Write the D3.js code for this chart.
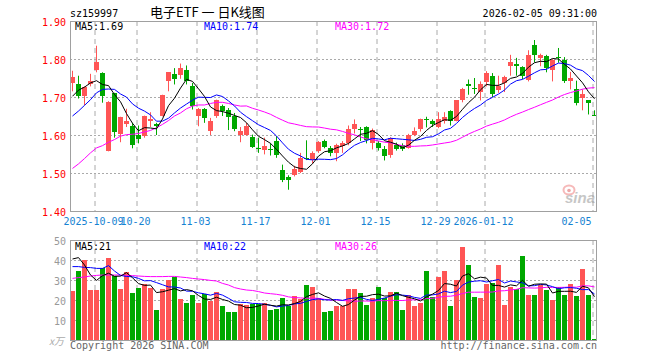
<!DOCTYPE html>
<html><head><meta charset="utf-8">
<script src="https://cdn.jsdelivr.net/npm/d3@7"></script>
<style>html,body{margin:0;padding:0;background:#fff;} svg{display:block}</style>
</head><body>
<svg id="c" width="660" height="360"></svg>
<script>
const dates = [
"2025-09-25","2025-09-26","2025-09-29","2025-09-30",
"2025-10-09","2025-10-10","2025-10-13","2025-10-14","2025-10-15","2025-10-16","2025-10-17",
"2025-10-20","2025-10-21","2025-10-22","2025-10-23","2025-10-24",
"2025-10-27","2025-10-28","2025-10-29","2025-10-30","2025-10-31",
"2025-11-03","2025-11-04","2025-11-05","2025-11-06","2025-11-07",
"2025-11-10","2025-11-11","2025-11-12","2025-11-13","2025-11-14",
"2025-11-17","2025-11-18","2025-11-19","2025-11-20","2025-11-21",
"2025-11-24","2025-11-25","2025-11-26","2025-11-27","2025-11-28",
"2025-12-01","2025-12-02","2025-12-03","2025-12-04","2025-12-05",
"2025-12-08","2025-12-09","2025-12-10","2025-12-11","2025-12-12",
"2025-12-15","2025-12-16","2025-12-17","2025-12-18","2025-12-19",
"2025-12-22","2025-12-23","2025-12-24","2025-12-25","2025-12-26",
"2025-12-29","2025-12-30","2025-12-31",
"2026-01-05","2026-01-06","2026-01-07","2026-01-08","2026-01-09",
"2026-01-12","2026-01-13","2026-01-14","2026-01-15","2026-01-16",
"2026-01-19","2026-01-20","2026-01-21","2026-01-22","2026-01-23",
"2026-01-26","2026-01-27","2026-01-28","2026-01-29","2026-01-30",
"2026-02-02","2026-02-03","2026-02-04","2026-02-05"];

const open = [1.737,1.735,1.702,1.733,1.772,1.763,1.559,1.711,1.602,1.630,
1.625,1.599,1.597,1.636,1.628,1.651,1.741,1.761,1.757,1.772,
1.730,1.649,1.669,1.610,1.649,1.676,1.667,1.651,1.600,1.601,
1.594,1.565,1.560,1.564,1.584,1.507,1.489,1.494,1.503,1.540,
1.534,1.558,1.584,1.565,1.553,1.571,1.578,1.615,1.615,1.621,
1.578,1.580,1.562,1.547,1.574,1.573,1.566,1.599,1.616,1.643,
1.638,1.621,1.636,1.663,1.638,1.693,1.733,1.724,1.7125,1.739,
1.756,1.718,1.737,1.781,1.788,1.779,1.744,1.838,1.803,1.809,
1.770,1.805,1.798,1.741,1.721,1.698,1.691,1.652];
const high = [1.769,1.756,1.728,1.761,1.835,1.765,1.689,1.711,1.648,1.669,
1.632,1.625,1.651,1.660,1.632,1.706,1.765,1.776,1.788,1.783,
1.737,1.671,1.671,1.645,1.693,1.680,1.671,1.658,1.621,1.632,
1.601,1.593,1.593,1.578,1.597,1.522,1.494,1.519,1.553,1.586,
1.557,1.584,1.588,1.571,1.577,1.584,1.625,1.641,1.621,1.623,
1.617,1.584,1.571,1.594,1.580,1.578,1.603,1.620,1.643,1.648,
1.641,1.660,1.660,1.665,1.691,1.724,1.746,1.750,1.741,1.768,
1.763,1.756,1.756,1.811,1.803,1.781,1.823,1.850,1.814,1.811,
1.800,1.829,1.805,1.766,1.743,1.720,1.691,1.665];
const low = [1.715,1.696,1.678,1.728,1.765,1.685,1.557,1.593,1.581,1.621,
1.565,1.578,1.593,1.621,1.600,1.649,1.715,1.733,1.748,1.733,
1.667,1.623,1.632,1.600,1.645,1.650,1.613,1.610,1.581,1.598,
1.566,1.553,1.549,1.546,1.540,1.476,1.456,1.491,1.500,1.534,
1.525,1.553,1.565,1.544,1.531,1.553,1.573,1.604,1.584,1.578,
1.562,1.559,1.533,1.540,1.559,1.558,1.564,1.597,1.609,1.620,
1.621,1.618,1.630,1.625,1.636,1.686,1.706,1.708,1.691,1.728,
1.700,1.711,1.713,1.756,1.756,1.747,1.741,1.791,1.781,1.765,
1.741,1.790,1.737,1.720,1.678,1.665,1.654,1.650];
const close = [1.753,1.702,1.726,1.743,1.791,1.702,1.688,1.608,1.648,1.636,
1.574,1.590,1.649,1.643,1.625,1.704,1.765,1.747,1.776,1.741,
1.676,1.669,1.645,1.638,1.693,1.663,1.648,1.615,1.611,1.625,
1.569,1.563,1.571,1.562,1.547,1.481,1.481,1.510,1.540,1.537,
1.553,1.582,1.568,1.553,1.575,1.578,1.615,1.628,1.613,1.588,
1.613,1.565,1.546,1.593,1.562,1.564,1.601,1.611,1.643,1.641,
1.628,1.641,1.648,1.636,1.691,1.722,1.728,1.720,1.733,1.763,
1.709,1.728,1.753,1.792,1.781,1.756,1.811,1.811,1.811,1.776,
1.798,1.803,1.741,1.750,1.684,1.709,1.684,1.650];
const volume = [24.5,34.5,40,25,25,36.2,40.8,32.2,25.5,33.8,
23.3,26.2,27.8,26.2,15,25.5,30,31.7,20.5,18.3,
22.5,18.3,22.8,19.5,23.8,17,14.2,14.2,17.8,17.5,
17.8,17.8,18.7,15,15.5,21.2,17.2,22.2,20.3,27.5,
26.7,21.2,14.2,14.5,17.2,17.2,25.5,25.5,23.7,17.5,
21.2,26.7,20.8,24.2,24.2,15,22.5,17.2,18.7,34.5,
21.7,31.7,34.5,17,30,46.7,37.5,21.7,21.2,27.8,
28.3,37.5,17.5,26.7,25.5,42.2,22.5,22.5,27.5,25,
20,26.7,22.5,27.8,22,35.5,22.5,0.5];

// moving-average values before a full window exists inside the shown range
const ma5Head = [1.702,1.718,1.726,1.737];
const ma10Head = [1.650,1.663,1.678,1.693,1.711,1.720,1.721,1.720,1.708];
const ma30Head = [1.512,1.524,1.538,1.553,1.566,1.572,1.581,1.588,1.597,1.601,1.602,1.604,1.608,1.612,1.619,1.628,1.638,1.650,1.658,1.669,1.676,1.679,1.679,1.683,1.686,1.686,1.683,1.679,1.676];
const vma5Head = [40.5,41.2,37.5,32.5];
const vma10Head = [36.7,36.7,36.3,36.2,35.8,35.8,37.2,34.5,32.3];
const vma30Head = [30.8,31.2,31.5,32,32.3,32.5,32.5,32.5,32.5,32.3,32.2,32,31.8,31.7,31.7,31.7,31.8,31.8,31.5,31.2,30.8,30.5,30.2,29.8,29.5,28.3,27.5,26.2,25.5];

const tickDates = ["2025-10-09","2025-10-20","2025-11-03","2025-11-17","2025-12-01","2025-12-15","2025-12-29","2026-01-12","2026-02-05"];
const tickLabels = ["2025-10-09","10-20","11-03","11-17","12-01","12-15","12-29","2026-01-12","02-05"];
const priceTicks = [1.40,1.50,1.60,1.70,1.80,1.90];
const volTicks = [10,20,30,40,50];
const priceLegend = ["MA5:1.69","MA10:1.74","MA30:1.72"];
const volLegend = ["MA5:21","MA10:22","MA30:26"];
const codeText = "sz159997";
const titleText = "电子ETF 一 日K线图";
const timeText = "2026-02-05 09:31:00";

const MONO = "'DejaVu Sans Mono', 'Liberation Mono', monospace";
const RED = "#ff5555", GREEN = "#00a800", GRID = "#aaaaaa", FRAME = "#a0a0a0";
const maColors = ["#000000", "#0000ff", "#ff00ff"];

function movingAvg(values, n, head) {
  return values.map((v, i) => i < n - 1 ? head[i] : d3.mean(values.slice(i - n + 1, i + 1)));
}

const svg = d3.select("#c");
const L = 70, R = 597;
const x = d3.scaleBand().domain(dates).range([69.5, 597.5]).padding(0);
const cx = d => x(d) + 3;
const gx = d => x(d) + 2;
const yP = d3.scaleLinear().domain([1.40, 1.90]).range([211, 21]);
const yV = d3.scaleLinear().domain([0, 50]).range([340, 240]);

const rows = dates.map((d, i) => ({d, o: open[i], h: high[i], l: low[i], c: close[i], v: volume[i], up: close[i] >= open[i]}));

// horizontal dotted grid
svg.append("g").selectAll("line").data(priceTicks.filter(t => t > 1.41 && t < 1.89)).join("line")
  .attr("x1", L).attr("x2", R).attr("y1", d => Math.round(yP(d)) + 0.5).attr("y2", d => Math.round(yP(d)) + 0.5)
  .attr("stroke", GRID).attr("stroke-dasharray", "2,2");
svg.append("g").selectAll("line").data(volTicks.filter(t => t < 50)).join("line")
  .attr("x1", L).attr("x2", R).attr("y1", d => Math.round(yV(d)) + 0.5).attr("y2", d => Math.round(yV(d)) + 0.5)
  .attr("stroke", GRID).attr("stroke-dasharray", "2,2");

// vertical dashed grid
const vg = svg.append("g");
vg.selectAll("line.p").data(tickDates).join("line").attr("class", "p")
  .attr("x1", d => gx(d) - 0.5).attr("x2", d => gx(d) - 0.5).attr("y1", 21).attr("y2", 211)
  .attr("stroke", GRID).attr("stroke-dasharray", "5,4");
vg.selectAll("line.v").data(tickDates).join("line").attr("class", "v")
  .attr("x1", d => gx(d) - 0.5).attr("x2", d => gx(d) - 0.5).attr("y1", 240).attr("y2", 340)
  .attr("stroke", GRID).attr("stroke-dasharray", "5,4");

// sina watermark
const wm = svg.append("g").attr("opacity", 0.55);
wm.append("ellipse").attr("cx", 569).attr("cy", 190).attr("rx", 5.5).attr("ry", 4.5).attr("fill", "none").attr("stroke", "#f08080").attr("stroke-width", 2);
wm.append("circle").attr("cx", 569).attr("cy", 190.5).attr("r", 1.8).attr("fill", "#e06060");
wm.append("text").attr("x", 595).attr("y", 203).attr("text-anchor", "end")
  .attr("font-family", "'Liberation Sans', Arial, sans-serif").attr("font-size", 15).attr("font-weight", "bold").attr("font-style", "italic")
  .attr("fill", "#999").text("sina");

// candles
const cg = svg.append("g");
cg.selectAll("line").data(rows).join("line")
  .attr("x1", r => cx(r.d)).attr("x2", r => cx(r.d)).attr("y1", r => yP(r.h)).attr("y2", r => yP(r.l))
  .attr("stroke", r => r.up ? RED : GREEN).attr("stroke-width", 1);
cg.selectAll("rect").data(rows).join("rect")
  .attr("x", r => x(r.d) + 0.5).attr("width", 5)
  .attr("y", r => yP(Math.max(r.o, r.c)))
  .attr("height", r => Math.max(1, Math.abs(yP(r.o) - yP(r.c))))
  .attr("fill", r => r.up ? RED : GREEN).attr("shape-rendering", "crispEdges");

// volume bars
svg.append("g").selectAll("rect").data(rows).join("rect")
  .attr("x", r => x(r.d) + 0.5).attr("width", 5)
  .attr("y", r => yV(r.v)).attr("height", r => Math.max(1, yV(0) - yV(r.v)))
  .attr("fill", r => r.up ? RED : GREEN).attr("shape-rendering", "crispEdges");

// MA lines
const pMA = [movingAvg(close, 5, ma5Head), movingAvg(close, 10, ma10Head), movingAvg(close, 30, ma30Head)];
const vMA = [movingAvg(volume, 5, vma5Head), movingAvg(volume, 10, vma10Head), movingAvg(volume, 30, vma30Head)];
const lineP = d3.line().x((v, i) => cx(dates[i])).y(v => yP(v));
const lineV = d3.line().x((v, i) => cx(dates[i])).y(v => yV(v));
[2, 1, 0].forEach(k => {
  svg.append("path").attr("d", lineP(pMA[k])).attr("fill", "none").attr("stroke", maColors[k]).attr("stroke-width", 1);
  svg.append("path").attr("d", lineV(vMA[k])).attr("fill", "none").attr("stroke", maColors[k]).attr("stroke-width", 1);
});

// frames
svg.append("rect").attr("x", 70.5).attr("y", 21.5).attr("width", 526).attr("height", 190).attr("fill", "none").attr("stroke", FRAME);
svg.append("rect").attr("x", 70.5).attr("y", 240.5).attr("width", 526).attr("height", 100).attr("fill", "none").attr("stroke", FRAME);

// axes
const ay = svg.append("g").attr("transform", "translate(70,1)")
  .call(d3.axisLeft(yP).tickValues(priceTicks).tickFormat(d3.format(".2f")).tickSize(0).tickPadding(4));
ay.select(".domain").remove();
ay.selectAll("text").attr("fill", "#ff0000").attr("font-family", MONO).attr("font-size", 10);

const av = svg.append("g").attr("transform", "translate(70,1)")
  .call(d3.axisLeft(yV).tickValues(volTicks).tickFormat(d3.format("d")).tickSize(0).tickPadding(4));
av.select(".domain").remove();
av.selectAll("text").attr("fill", "#999").attr("font-family", MONO).attr("font-size", 10);

const ax = svg.append("g").attr("transform", "translate(-3,211)")
  .call(d3.axisBottom(x).tickValues(tickDates).tickFormat((d, i) => tickLabels[i]).tickSize(0).tickPadding(7));
ax.select(".domain").remove();
ax.selectAll("text").attr("fill", "#1582d2").attr("font-family", MONO).attr("font-size", 10)
  .attr("text-anchor", (d, i) => i === tickDates.length - 1 ? "end" : "middle");

svg.append("text").attr("x", 64).attr("y", 345).attr("text-anchor", "end")
  .attr("font-family", "'Noto Sans CJK SC', sans-serif").attr("font-size", 10).attr("font-style", "italic").attr("fill", "#aaa").text("x万");

// legends
const legX = [75, 204, 335];
priceLegend.forEach((t, k) => svg.append("text").attr("x", legX[k]).attr("y", 29.5).attr("fill", maColors[k])
  .attr("font-family", MONO).attr("font-size", 10).text(t));
volLegend.forEach((t, k) => svg.append("text").attr("x", legX[k]).attr("y", 249.5).attr("fill", maColors[k])
  .attr("font-family", MONO).attr("font-size", 10).text(t));

// header
svg.append("text").attr("x", 70).attr("y", 17).attr("font-family", MONO).attr("font-size", 10).attr("fill", "#000").text(codeText);
svg.append("text").attr("x", 150).attr("y", 17).attr("font-family", "'Noto Sans CJK SC', sans-serif").attr("font-size", 13).attr("fill", "#000").text(titleText);
svg.append("text").attr("x", 597).attr("y", 17).attr("text-anchor", "end").attr("font-family", MONO).attr("font-size", 10).attr("fill", "#000").text(timeText);

// footer
svg.append("text").attr("x", 70).attr("y", 348.5).attr("font-family", MONO).attr("font-size", 10).attr("fill", "#666").text("Copyright 2026 SINA.COM");
svg.append("text").attr("x", 597).attr("y", 348.5).attr("text-anchor", "end").attr("font-family", MONO).attr("font-size", 10).attr("fill", "#666").text("http://finance.sina.com.cn");
</script>
</body></html>
